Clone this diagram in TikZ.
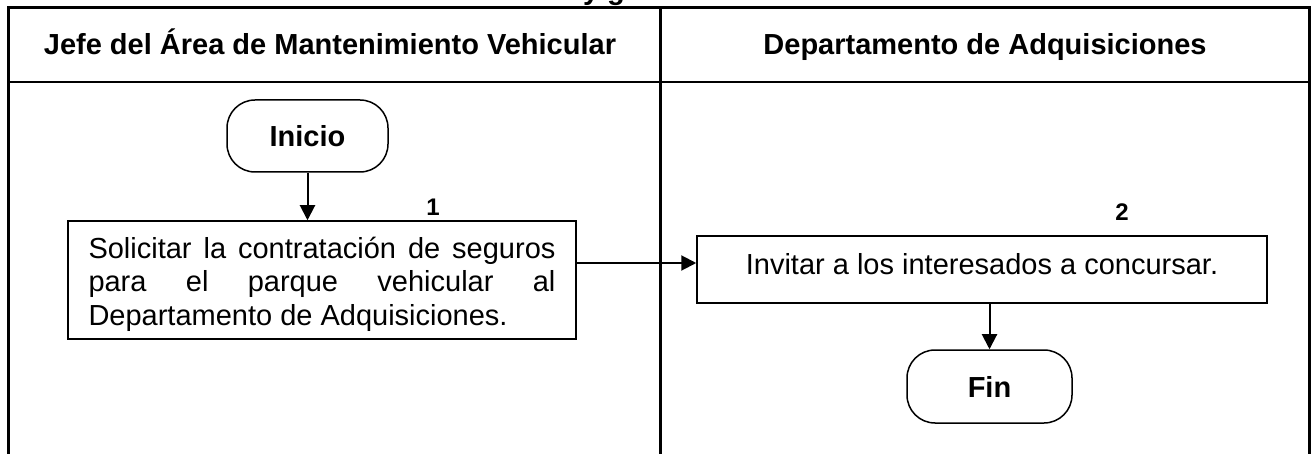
\documentclass[tikz,border=0pt]{standalone}
\usepackage{fontspec}
\setmainfont{Liberation Sans}
\usetikzlibrary{arrows.meta}

\begin{document}
\begin{tikzpicture}[x=1pt,y=-1pt,
  marco/.style={line width=3.3pt,line join=miter},
  caja/.style={draw,line width=1.5pt,font=\fontsize{29}{33.5}\selectfont},
  terminal/.style={draw,line width=1.5pt,rounded corners=28pt,font=\fontsize{29}{34}\selectfont\bfseries},
  titulo/.style={font=\fontsize{29}{34}\selectfont\bfseries},
  numero/.style={font=\fontsize{24}{28}\selectfont\bfseries},
  flecha/.style={line width=2pt,-{Triangle[length=15pt,width=15pt]}}]
\useasboundingbox (0,0) rectangle (1312,454);

% title, cut off by the page
\node[titulo,anchor=base] (tit) at (604,0) {y g};

% lanes
\draw[marco] (8.5,460) -- (8.5,7.7) -- (1309.5,7.7) -- (1309.5,460);
\draw[line width=2.3pt] (8.5,82) -- (1309.5,82);
\draw[line width=2.5pt] (660.7,7.7) -- (660.7,460);
\node[titulo,anchor=base] (jefe) at (330,55) {Jefe del Área de Mantenimiento Vehicular};
\node[titulo,anchor=base] (depto) at (985,55) {Departamento de Adquisiciones};

% steps
\node[terminal,minimum width=161pt,minimum height=72pt] (ini) at (307.5,136) {Inicio};
\node[caja,text width=467pt,inner xsep=20.5pt,minimum height=118pt,align=justify] (p1) at (322,280)
  {\rule{0pt}{30pt}Solicitar la contratación de seguros\linebreak para el parque vehicular al\linebreak Departamento de Adquisiciones.};
\node[caja,minimum width=570pt,minimum height=67pt,text depth=12pt] (p2) at (982,269.5) {Invitar a los interesados a concursar.};
\node[terminal,minimum width=165pt,minimum height=73pt] (fin) at (989.5,386.5) {Fin};
\node[numero] (n1) at (433,207) {1};
\node[numero] (n2) at (1122,212) {2};

% connectors
\draw[flecha] (ini.south) -- (ini.south |- p1.north);
\draw[flecha] ([yshift=17pt]p1.east) -- ([yshift=17pt]p1.east -| p2.west);
\draw[flecha] (p2.south -| fin.north) -- (fin.north);
\end{tikzpicture}
\end{document}
